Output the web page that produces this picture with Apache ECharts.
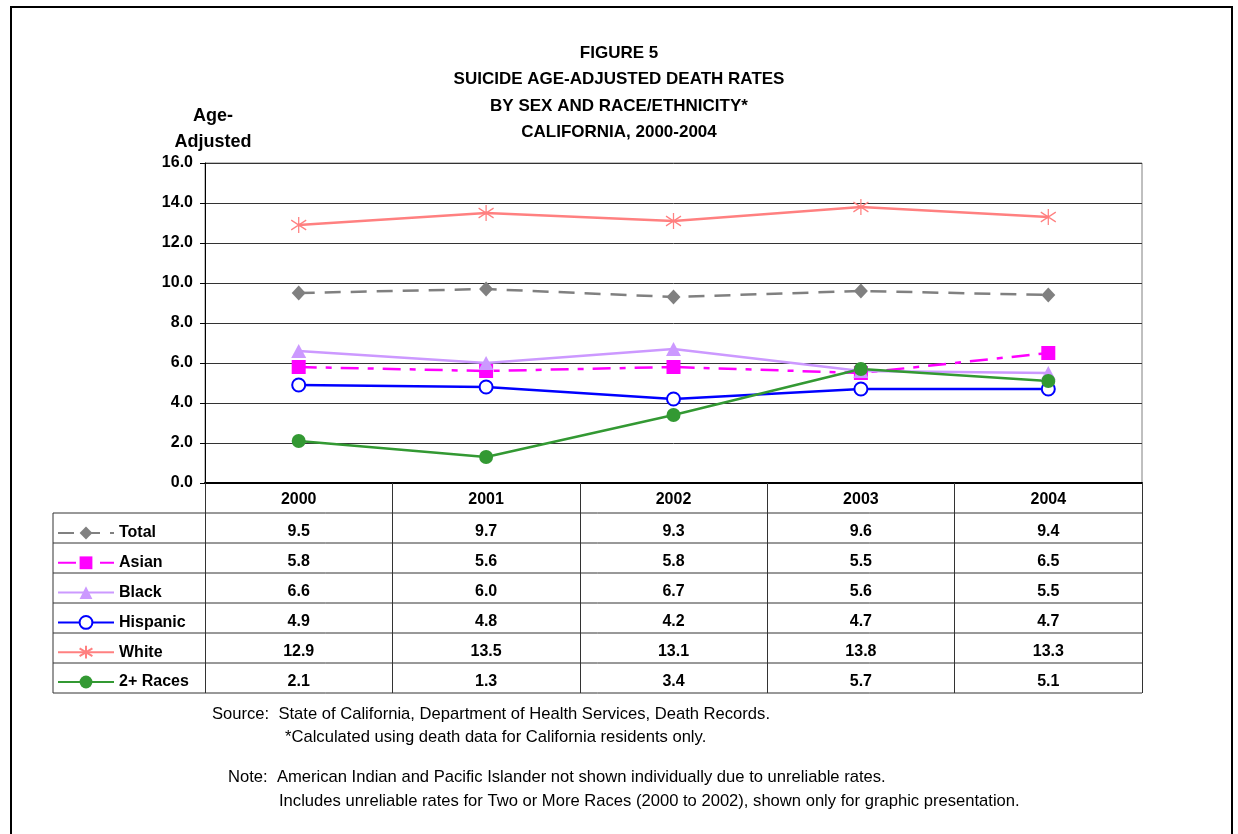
<!DOCTYPE html>
<html>
<head>
<meta charset="utf-8">
<title>Figure 5</title>
<script src="https://cdn.jsdelivr.net/npm/echarts@6/dist/echarts.min.js"></script>
<style>
  html, body { margin: 0; padding: 0; background: #fff; }
  #main { width: 1238px; height: 834px; }
</style>
</head>
<body>
<div id="main"></div>
<script>
// data
var years = ['2000', '2001', '2002', '2003', '2004'];
var yTicks = [0, 2, 4, 6, 8, 10, 12, 14, 16];
var total = [9.5, 9.7, 9.3, 9.6, 9.4];
var asian = [5.8, 5.6, 5.8, 5.5, 6.5];
var black = [6.6, 6.0, 6.7, 5.6, 5.5];
var hispanic = [4.9, 4.8, 4.2, 4.7, 4.7];
var white = [12.9, 13.5, 13.1, 13.8, 13.3];
var races2 = [2.1, 1.3, 3.4, 5.7, 5.1];
var seriesNames = ['Total', 'Asian', 'Black', 'Hispanic', 'White', '2+ Races'];
var seriesData = [total, asian, black, hispanic, white, races2];

var FONT = '"Liberation Sans", Arial, sans-serif';
var chart = echarts.init(document.getElementById('main'));

var rowH = 30;      // table row height
var tableLeft = 53; // left edge of the legend column

var option = {
  animation: false,
  backgroundColor: '#fff',
  title: {
    text: 'FIGURE 5\nSUICIDE AGE-ADJUSTED DEATH RATES\nBY SEX AND RACE/ETHNICITY*\nCALIFORNIA, 2000-2004',
    left: 'center',
    top: 35,
    textStyle: { fontFamily: FONT, fontSize: 17, fontWeight: 'bold', color: '#000', lineHeight: 26.5, align: 'center' }
  },
  legend: {
    orient: 'vertical',
    left: 52,
    top: 520,
    itemWidth: 56,
    itemHeight: 16,
    itemGap: 13.8,
    selectedMode: false,
    data: seriesNames,
    textStyle: { fontFamily: FONT, fontSize: 16, fontWeight: 'bold', color: '#000' }
  },
  grid: {
    left: 205, right: 96, top: 163, bottom: 351,
    show: true, borderColor: '#808080', borderWidth: 1
  },
  xAxis: {
    type: 'category',
    data: years,
    boundaryGap: true,
    axisLine: { lineStyle: { color: '#000', width: 2 } },
    axisTick: { show: true, inside: false, length: 210, lineStyle: { color: '#333', width: 1 } },
    axisLabel: { fontFamily: FONT, fontSize: 16, fontWeight: 'bold', color: '#000', margin: 9 }
  },
  yAxis: {
    type: 'value',
    min: yTicks[0],
    max: yTicks[yTicks.length - 1],
    interval: 2,
    axisLine: { show: true, lineStyle: { color: '#000', width: 1 } },
    axisTick: { show: true, length: 5, lineStyle: { color: '#000' } },
    axisLabel: {
      fontFamily: FONT, fontSize: 16, fontWeight: 'bold', color: '#000', margin: 12,
      padding: [3, 0, 0, 0],
      formatter: function (v) { return v.toFixed(1); }
    },
    splitLine: { lineStyle: { color: '#333', width: 1 } }
  },
  series: [
    {
      name: 'Total', type: 'line', data: total,
      symbol: 'diamond', symbolSize: [14, 15],
      itemStyle: { color: '#808080' },
      lineStyle: { color: '#808080', width: 2.5, type: [16, 10] }
    },
    {
      name: 'Asian', type: 'line', data: asian,
      symbol: 'rect', symbolSize: 14,
      itemStyle: { color: '#FF00FF' },
      lineStyle: { color: '#FF00FF', width: 2.5, type: [18, 9, 6, 9] }
    },
    {
      name: 'Black', type: 'line', data: black,
      symbol: 'triangle', symbolSize: [15, 14],
      itemStyle: { color: '#CC99FF' },
      lineStyle: { color: '#CC99FF', width: 2.5 }
    },
    {
      name: 'Hispanic', type: 'line', data: hispanic,
      symbol: 'emptyCircle', symbolSize: 13,
      itemStyle: { color: '#0000FF', borderWidth: 1.2 },
      lineStyle: { color: '#0000FF', width: 2.5 }
    },
    {
      name: 'White', type: 'line', data: white,
      symbol: 'path://M0,-10L0,10M-9,-6L9,6M-9,6L9,-6', symbolSize: [15, 16],
      itemStyle: { color: 'transparent', borderColor: '#FF8080', borderWidth: 1.3 },
      lineStyle: { color: '#FF8080', width: 2.5 }
    },
    {
      name: '2+ Races', type: 'line', data: races2,
      symbol: 'circle', symbolSize: 14,
      itemStyle: { color: '#339933' },
      lineStyle: { color: '#339933', width: 2.5 }
    }
  ]
};

chart.setOption(option);

// build the data table under the plot from the same arrays
var gridRect = chart.getModel().getComponent('grid').coordinateSystem.getRect();
var plotBottom = gridRect.y + gridRect.height;
var plotRight = gridRect.x + gridRect.width;
var headerBottom = plotBottom + rowH;
var tableBottom = headerBottom + rowH * seriesNames.length;
var graphics = [];

// outer frame
graphics.push({
  type: 'rect', shape: { x: 11, y: 7, width: 1221, height: 840 },
  style: { fill: null, stroke: '#000', lineWidth: 2 }, silent: true
});

// horizontal table lines
for (var r = 0; r <= seriesNames.length; r++) {
  var yy = headerBottom + r * rowH;
  graphics.push({
    type: 'line', shape: { x1: tableLeft, y1: yy, x2: plotRight, y2: yy },
    style: { stroke: '#333', lineWidth: 1 }, silent: true
  });
}
// left edge of the legend column
graphics.push({
  type: 'line', shape: { x1: tableLeft, y1: headerBottom, x2: tableLeft, y2: tableBottom },
  style: { stroke: '#333', lineWidth: 1 }, silent: true
});

// cell values
for (var s = 0; s < seriesData.length; s++) {
  for (var i = 0; i < years.length; i++) {
    var cx = chart.convertToPixel({ xAxisIndex: 0 }, years[i]);
    graphics.push({
      type: 'text', x: cx, y: headerBottom + s * rowH + rowH / 2 + 4,
      style: {
        text: seriesData[s][i].toFixed(1), fill: '#000',
        font: 'bold 16px ' + FONT, textAlign: 'center', textVerticalAlign: 'middle'
      },
      silent: true
    });
  }
}

// y axis caption
graphics.push({
  type: 'text', x: 213, y: 103,
  style: {
    text: 'Age-\nAdjusted', fill: '#000', font: 'bold 18px ' + FONT,
    textAlign: 'center', lineHeight: 26
  },
  silent: true
});

// footnotes
var notes = [
  { x: 212, y: 714, t: 'Source:  State of California, Department of Health Services, Death Records.' },
  { x: 285, y: 737, t: '*Calculated using death data for California residents only.' },
  { x: 228, y: 777, t: 'Note:  American Indian and Pacific Islander not shown individually due to unreliable rates.' },
  { x: 279, y: 801, t: 'Includes unreliable rates for Two or More Races (2000 to 2002), shown only for graphic presentation.' }
];
notes.forEach(function (n) {
  graphics.push({
    type: 'text', x: n.x, y: n.y,
    style: { text: n.t, fill: '#000', font: '16.6px ' + FONT, textVerticalAlign: 'middle' },
    silent: true
  });
});

chart.setOption({ graphic: graphics });
</script>
</body>
</html>
